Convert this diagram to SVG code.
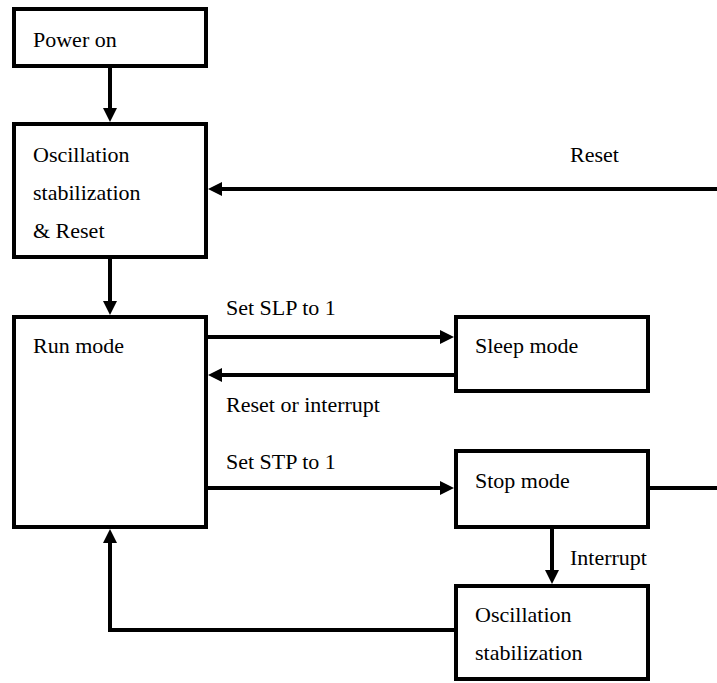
<svg xmlns="http://www.w3.org/2000/svg" width="717" height="683" viewBox="0 0 717 683">
<style>
.box{fill:#fff;stroke:#000;stroke-width:4}
text{font-family:'Liberation Serif','Times New Roman',Times,'DejaVu Serif',serif;font-size:22px;fill:#000}
.con{fill:none;stroke:#000;stroke-width:4}
.arr{marker-end:url(#ah)}
</style>
<defs>
<marker id="ah" markerUnits="userSpaceOnUse" markerWidth="14" markerHeight="14" refX="3" refY="7" orient="auto">
<path d="M0,0 L14,7 L0,14 z" fill="#000"/>
</marker>
</defs>
<rect width="717" height="683" fill="#fff"/>
<g id="connectors" font-family="Liberation Serif, Times New Roman, serif" font-size="22">
<path class="con arr" d="M110,66 V111"/>
<path class="con arr" d="M110,257 V304"/>
<path class="con arr" d="M717,189 H219"/>
<path class="con arr" d="M206,337 H443"/>
<path class="con arr" d="M456,375 H219"/>
<path class="con arr" d="M206,488 H443"/>
<path class="con" d="M648,488 H717"/>
<path class="con arr" d="M552,527 V573"/>
<path class="con arr" d="M456,630 H110 V540"/>
<text x="570" y="162">Reset</text>
<text x="226" y="315">Set SLP to 1</text>
<text x="226" y="412">Reset or interrupt</text>
<text x="226" y="469">Set STP to 1</text>
<text x="570" y="565">Interrupt</text>
</g>
<g id="power-on">
<rect class="box" x="14" y="9" width="192" height="57"/>
<text x="33" y="47">Power on</text>
</g>
<g id="osc-reset">
<rect class="box" x="14" y="124" width="192" height="133"/>
<text x="33" y="162">Oscillation</text>
<text x="33" y="200">stabilization</text>
<text x="33" y="238">&amp; Reset</text>
</g>
<g id="run-mode">
<rect class="box" x="14" y="317" width="192" height="210"/>
<text x="33" y="353">Run mode</text>
</g>
<g id="sleep-mode">
<rect class="box" x="456" y="317" width="192" height="74"/>
<text x="475" y="353">Sleep mode</text>
</g>
<g id="stop-mode">
<rect class="box" x="456" y="451" width="192" height="76"/>
<text x="475" y="488">Stop mode</text>
</g>
<g id="osc-stab">
<rect class="box" x="456" y="586" width="192" height="93"/>
<text x="475" y="622">Oscillation</text>
<text x="475" y="660">stabilization</text>
</g>
</svg>
